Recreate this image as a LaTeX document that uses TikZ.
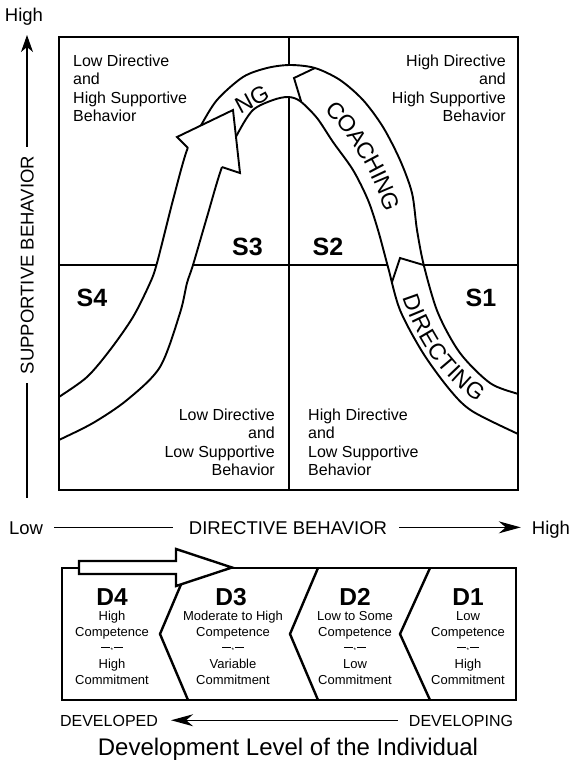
\documentclass[tikz,border=0pt]{standalone}
\usepackage{fontspec}
\setmainfont{Liberation Sans}
\usetikzlibrary{arrows.meta,decorations.text}

% small "—*—" separator used inside the development boxes
\newcommand\sepmark{\rule[4pt]{9pt}{0.7pt}\kern0.6pt{\fontsize{6.5}{6.5}\selectfont*}\kern0.6pt\rule[4pt]{9pt}{0.7pt}}
\newcommand\ribbonfont{\fontsize{23}{23}\selectfont}

\tikzset{
  frame/.style={line width=2.4pt},
  gridline/.style={line width=1.8pt},
  ribbon/.style={line width=1.9pt, line join=miter},
  axis/.style={line width=1.1pt},
  vtip/.style={-{Stealth[length=17pt,width=12pt,inset=5pt]}},
  htip/.style={-{Stealth[length=22pt,width=12pt,inset=7pt]}},
  quad/.style={inner sep=0pt, font=\fontsize{16}{18.3}\selectfont},
  slabel/.style={inner sep=0pt, font=\fontsize{25}{25}\selectfont\bfseries},
  axlabel/.style={inner sep=0pt, font=\fontsize{18.5}{18.5}\selectfont, text height=13.3pt, text depth=0pt},
  devlabel/.style={inner sep=0pt, font=\fontsize{16}{16}\selectfont, text height=11.5pt, text depth=0pt},
  dhead/.style={inner sep=0pt, font=\fontsize{24.5}{24.5}\selectfont\bfseries},
  dtext/.style={inner sep=0pt, font=\fontsize{13}{16}\selectfont},
  divider/.style={line width=2.4pt, line join=miter},
  bigarrow/.style={line width=2.4pt, fill=white, line join=miter},
  ribbontext/.style={decorate, decoration={text along path, text align=center, raise=-8.2pt, text={|\ribbonfont|#1}}},
}

\begin{document}
\begin{tikzpicture}[x=1pt,y=-1pt]
\useasboundingbox (0,0) rectangle (570,764);

% quadrant dividers
\draw[gridline] (289,37) -- (289,490);
\draw[gridline] (59,265) -- (518,265);

% the leadership-style ribbon
\begin{scope}
  \clip (59,37) rectangle (518,490);
  \fill[white] plot[smooth] coordinates {(50,403) (59,397) (87,377) (110,350) (133,317) (150,283) (157,263) (173,200) (187,150) (200,127) (217,100) (243,77) (267,68) (290,65) (315,68) (340,80) (363,100) (383,127) (400,160) (412,193) (417,230) (424,266) (438,313) (460,353) (490,383) (518,394) (527,397)}
    -- plot[smooth] coordinates {(527,438) (518,434) (472,411) (450,390) (423,353) (400,310) (388,267) (378,230) (368,200) (353,170) (333,142) (317,118) (300,101) (288,97) (273,100) (253,110) (238,133) (222,167) (207,217) (193,265) (187,283) (180,313) (160,367) (127,400) (93,423) (59,440) (50,444.5)}
    -- cycle;
  \draw[ribbon] plot[smooth] coordinates {(50,403) (59,397) (87,377) (110,350) (133,317) (150,283) (157,263) (173,200) (187,150) (200,127) (217,100) (243,77) (267,68) (290,65) (315,68) (340,80) (363,100) (383,127) (400,160) (412,193) (417,230) (424,266) (438,313) (460,353) (490,383) (518,394) (527,397)};
  \draw[ribbon] plot[smooth] coordinates {(50,444.5) (59,440) (93,423) (127,400) (160,367) (180,313) (187,283) (193,265) (207,217) (222,167) (238,133) (253,110) (273,100) (288,97) (300,101) (317,118) (333,142) (353,170) (368,200) (378,230) (388,267) (400,310) (423,353) (450,390) (472,411) (518,434) (527,438)};
\end{scope}

% arrowhead on the rising side of the ribbon
\fill[white] (188,148) -- (177,137) -- (233,110) -- (240,173) -- (222,167) -- cycle;
\draw[ribbon] (188,148) -- (177,137) -- (233,110) -- (240,173) -- (222,167);

% chevron joints between ribbon sections
\draw[ribbon] (315,68) -- (294,78) -- (301,101);
\draw[ribbon] (392,282) -- (400,258) -- (423.5,265);

% ribbon labels
\node[rotate=28, font=\ribbonfont, inner sep=0pt] (ng) at (252,99) {NG};
\path[ribbontext=COACHING] (310,88) .. controls (345,112) and (385,165) .. (400,235);
\path[ribbontext=DIRECTING] (404,270) .. controls (415,320) and (440,375) .. (505,408);

% quadrant descriptions
\node[quad, anchor=base west] (qtl) at (73,66.5)
  {\parbox[t]{150pt}{\raggedright Low Directive\\and\\High Supportive\\Behavior}};
\node[quad, anchor=base east] (qtr) at (506,66.5)
  {\parbox[t]{150pt}{\raggedleft High Directive\\and\\High Supportive\\Behavior}};
\node[quad, anchor=base east] (qbl) at (275,420.5)
  {\parbox[t]{150pt}{\raggedleft Low Directive\\and\\Low Supportive\\Behavior}};
\node[quad, anchor=base west] (qbr) at (308,420.5)
  {\parbox[t]{150pt}{\raggedright High Directive\\and\\Low Supportive\\Behavior}};

% style labels
\node[slabel, anchor=base] (s3) at (247.5,255) {S3};
\node[slabel, anchor=base] (s2) at (328,255) {S2};
\node[slabel, anchor=base] (s4) at (92,306.5) {S4};
\node[slabel, anchor=base] (s1) at (481,306.5) {S1};

% outer frame
\draw[frame] (59,37) rectangle (518,490);

% vertical axis
\node[axlabel, anchor=base] (yhigh) at (24,21.5) {High};
\node[axlabel, rotate=90, anchor=center] (ylab) at (27,265) {SUPPORTIVE BEHAVIOR};
\coordinate (ytip) at (27,35);
\coordinate (ybot) at (27,498);
\draw[axis, vtip] ([yshift=9pt]ylab.east) -- (ytip);
\draw[axis] ([yshift=-9pt]ylab.west) -- (ybot);

% horizontal axis
\node[axlabel, anchor=base] (xlow) at (26,534) {Low};
\node[axlabel, anchor=base] (xlab) at (288,534) {DIRECTIVE BEHAVIOR};
\node[axlabel, anchor=base] (xhigh) at (551,534) {High};
\draw[axis] ([xshift=11pt]xlow.east) -- ([xshift=-16pt]xlab.west);
\draw[axis, htip] ([xshift=12pt]xlab.east) -- ([xshift=-11pt]xhigh.west);

% development level boxes
\draw[frame] (62,568) rectangle (516,700);
\draw[divider] (188,568) -- (160,634) -- (188,700);
\draw[divider] (318,568) -- (290,634) -- (318,700);
\draw[divider] (430,568) -- (400,634) -- (430,700);

\node[dhead, anchor=base] (d4) at (112,605) {D4};
\node[dhead, anchor=base] (d3) at (231,605) {D3};
\node[dhead, anchor=base] (d2) at (355,605) {D2};
\node[dhead, anchor=base] (d1) at (468,605) {D1};
\node[dtext, anchor=base] (d4t) at (112,620)
  {\parbox[t]{110pt}{\centering High\\Competence\\\sepmark\\High\\Commitment}};
\node[dtext, anchor=base] (d3t) at (233,620)
  {\parbox[t]{110pt}{\centering Moderate to High\\Competence\\\sepmark\\Variable\\Commitment}};
\node[dtext, anchor=base] (d2t) at (355,620)
  {\parbox[t]{110pt}{\centering Low to Some\\Competence\\\sepmark\\Low\\Commitment}};
\node[dtext, anchor=base] (d1t) at (468,620)
  {\parbox[t]{110pt}{\centering Low\\Competence\\\sepmark\\High\\Commitment}};

% progression arrow along the top of the boxes
\draw[bigarrow] (79,561) -- (176,561) -- (176,549) -- (232,567.5) -- (176,586) -- (176,574) -- (79,574) -- cycle;

% development axis
\node[devlabel, anchor=base] (dvd) at (109,726) {DEVELOPED};
\node[devlabel, anchor=base] (dvg) at (461,726) {DEVELOPING};
\draw[axis, htip] ([xshift=-11pt]dvg.west) -- ([xshift=13pt]dvd.east);
\node[inner sep=0pt, font=\fontsize{24}{24}\selectfont, anchor=base] (title) at (288,755)
  {Development Level of the Individual};
\end{tikzpicture}
\end{document}
